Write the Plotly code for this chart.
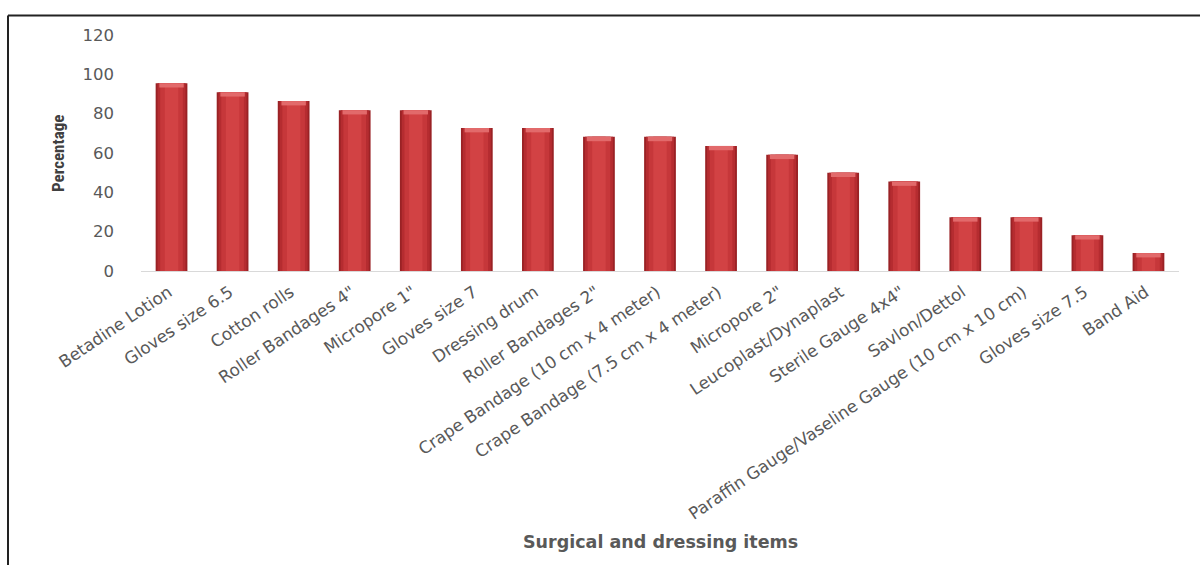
import plotly.graph_objects as go

# Surgical and dressing items and the share of respondents reporting each
items = [
    "Betadine Lotion",
    "Gloves size 6.5",
    "Cotton rolls",
    "Roller Bandages 4\"",
    "Micropore 1\"",
    "Gloves size 7",
    "Dressing drum",
    "Roller Bandages 2\"",
    "Crape Bandage (10 cm x 4 meter)",
    "Crape Bandage (7.5 cm x 4 meter)",
    "Micropore 2\"",
    "Leucoplast/Dynaplast",
    "Sterile Gauge 4x4\"",
    "Savlon/Dettol",
    "Paraffin Gauge/Vaseline Gauge (10 cm x 10 cm)",
    "Gloves size 7.5",
    "Band Aid",
]
percentages = [95.5, 90.9, 86.4, 81.8, 81.8, 72.7, 72.7, 68.2, 68.2,
               63.6, 59.1, 50.0, 45.5, 27.3, 27.3, 18.2, 9.1]
y_ticks = [0, 20, 40, 60, 80, 100, 120]

W, H = 1200, 565
L, R, T, B = 141, 21, 35, 294
plot_w = W - L - R
plot_h = H - T - B

FONT = "DejaVu Sans, Verdana, sans-serif"

fig = go.Figure()

# layered bars give a rounded, cylinder-like shading
for width, color in [(0.52, "#9A2225"), (0.46, "#B52C30"), (0.37, "#C6373A"), (0.22, "#D24244")]:
    fig.add_trace(go.Bar(
        x=items, y=percentages, width=width,
        marker=dict(color=color, line=dict(width=0)),
        hoverinfo="x+y", showlegend=False,
    ))

# lighter cap at the top of each bar
cap = 2.2
fig.add_trace(go.Bar(
    x=items, y=[cap] * len(percentages), base=[v - cap for v in percentages],
    width=0.40, marker=dict(color="#E26A6B", line=dict(width=0)),
    hoverinfo="skip", showlegend=False,
))

fig.update_layout(
    width=W, height=H,
    margin=dict(l=L, r=R, t=T, b=B),
    paper_bgcolor="white", plot_bgcolor="white",
    barmode="overlay",
    font=dict(family=FONT, color="#595959"),
    xaxis=dict(
        type="category", range=[-0.5, 16.5],
        showline=True, linecolor="#D9D9D9", linewidth=1,
        showgrid=False, ticks="", tickangle=-34,
        ticklabelstandoff=4, ticklabelshift=-3,
        tickfont=dict(size=16.8, color="#595959", family=FONT),
    ),
    yaxis=dict(
        range=[0, 120], tickvals=y_ticks, showgrid=False, zeroline=False,
        showline=False, ticks="", ticklabelstandoff=26,
        tickfont=dict(size=16.5, color="#595959", family=FONT),
    ),
    shapes=[
        # frame along the left and top edges
        dict(type="line", xref="paper", yref="paper",
             x0=(8 - L) / plot_w, x1=(W + 5 - L) / plot_w,
             y0=(H - B - 15.5) / plot_h, y1=(H - B - 15.5) / plot_h,
             line=dict(color="#222222", width=2)),
        dict(type="line", xref="paper", yref="paper",
             x0=(8 - L) / plot_w, x1=(8 - L) / plot_w,
             y0=(H - B - 15.5) / plot_h, y1=(H - B - H - 5) / plot_h,
             line=dict(color="#222222", width=2)),
    ],
    annotations=[
        dict(text="<b>Surgical and dressing items</b>", xref="paper", yref="paper",
             x=(660 - L) / plot_w, y=(H - B - 542) / plot_h,
             showarrow=False, xanchor="center", yanchor="middle",
             font=dict(size=17.5, color="#595959", family=FONT)),
        dict(text="<b>Percentage</b>", xref="paper", yref="paper",
             x=(58 - L) / plot_w, y=(H - B - 154) / plot_h,
             showarrow=False, textangle=-90, xanchor="center", yanchor="middle",
             font=dict(size=17, color="#404040",
                       family="Liberation Sans Narrow, Roboto Condensed, Arial Narrow, sans-serif")),
    ],
)

fig.write_html("out.html")
